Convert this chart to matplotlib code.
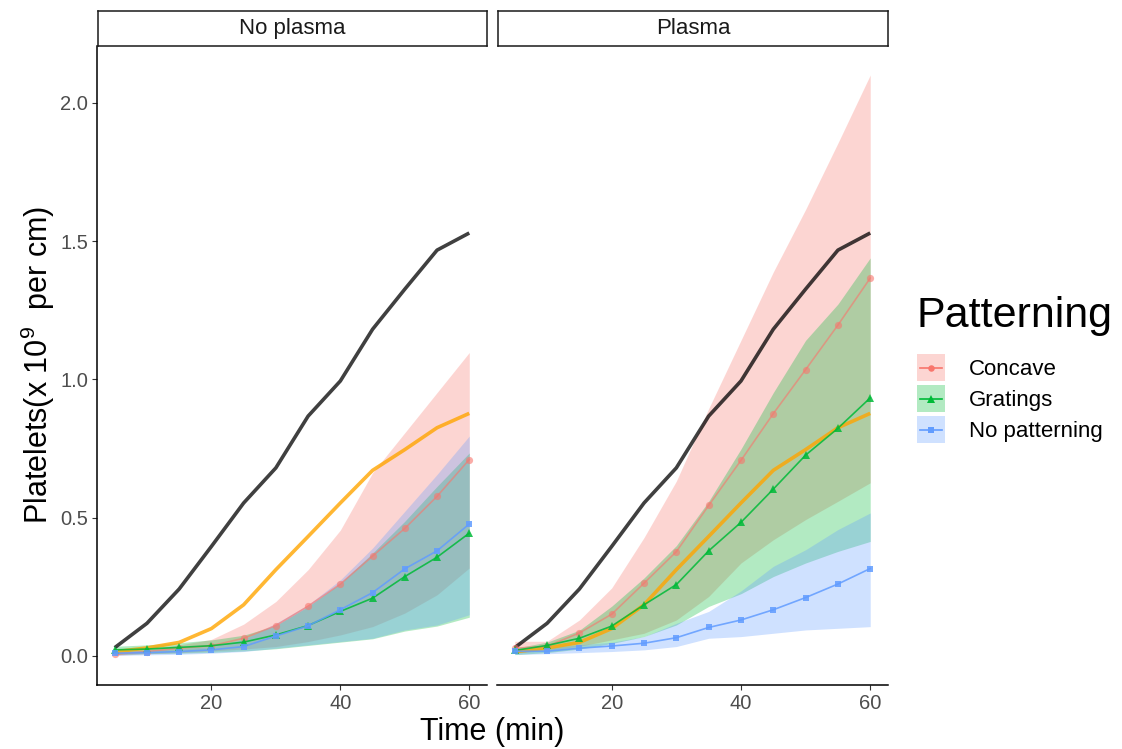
import matplotlib
matplotlib.use("Agg")
import matplotlib.pyplot as plt
from matplotlib.patches import Rectangle
from matplotlib.lines import Line2D
from matplotlib.legend_handler import HandlerBase

plt.rcParams['font.family'] = ['Liberation Sans', 'DejaVu Sans']
plt.rcParams['mathtext.fontset'] = 'custom'
plt.rcParams['mathtext.rm'] = 'Liberation Sans'
plt.rcParams['mathtext.it'] = 'Liberation Sans:italic'

# ---------------- data ----------------
time_min = [5, 10, 15, 20, 25, 30, 35, 40, 45, 50, 55, 60]

# reference curves shown in both panels
ref_dark = [0.030, 0.118, 0.242, 0.396, 0.553, 0.680, 0.867, 0.994, 1.181, 1.326, 1.467, 1.529]
ref_orange = [0.015, 0.029, 0.049, 0.099, 0.185, 0.312, 0.432, 0.553, 0.671, 0.746, 0.825, 0.877]

panels = ["No plasma", "Plasma"]
groups = ["Concave", "Gratings", "No patterning"]

# No plasma
np_concave_mean = [0.006, 0.016, 0.028, 0.037, 0.064, 0.110, 0.180, 0.260, 0.361, 0.461, 0.577, 0.710]
np_concave_lo = [0.002, 0.008, 0.012, 0.018, 0.025, 0.034, 0.052, 0.076, 0.106, 0.155, 0.221, 0.318]
np_concave_hi = [0.015, 0.025, 0.040, 0.060, 0.115, 0.197, 0.312, 0.455, 0.662, 0.807, 0.952, 1.097]
np_gratings_mean = [0.022, 0.025, 0.031, 0.037, 0.050, 0.076, 0.110, 0.161, 0.209, 0.287, 0.357, 0.444]
np_gratings_lo = [0.005, 0.008, 0.010, 0.013, 0.018, 0.026, 0.038, 0.050, 0.062, 0.090, 0.108, 0.140]
np_gratings_hi = [0.035, 0.040, 0.048, 0.058, 0.075, 0.110, 0.179, 0.263, 0.372, 0.487, 0.613, 0.734]
np_none_mean = [0.010, 0.012, 0.016, 0.022, 0.034, 0.072, 0.109, 0.167, 0.229, 0.315, 0.380, 0.477]
np_none_lo = [0.002, 0.004, 0.006, 0.010, 0.016, 0.028, 0.040, 0.052, 0.064, 0.094, 0.112, 0.149]
np_none_hi = [0.018, 0.020, 0.026, 0.034, 0.060, 0.118, 0.185, 0.275, 0.390, 0.523, 0.656, 0.795]

# Plasma
p_concave_mean = [0.028, 0.035, 0.083, 0.151, 0.263, 0.377, 0.544, 0.707, 0.876, 1.035, 1.196, 1.366]
p_concave_lo = [0.010, 0.020, 0.035, 0.058, 0.082, 0.130, 0.215, 0.336, 0.420, 0.493, 0.559, 0.626]
p_concave_hi = [0.053, 0.053, 0.130, 0.246, 0.428, 0.632, 0.894, 1.141, 1.388, 1.614, 1.854, 2.100]
p_gratings_mean = [0.020, 0.038, 0.064, 0.108, 0.185, 0.258, 0.380, 0.483, 0.603, 0.726, 0.823, 0.933]
p_gratings_lo = [0.005, 0.012, 0.025, 0.045, 0.070, 0.112, 0.179, 0.225, 0.287, 0.336, 0.378, 0.414]
p_gratings_hi = [0.028, 0.050, 0.093, 0.180, 0.282, 0.399, 0.559, 0.748, 0.952, 1.141, 1.272, 1.439]
p_none_mean = [0.017, 0.017, 0.028, 0.036, 0.046, 0.066, 0.103, 0.130, 0.167, 0.211, 0.260, 0.316]
p_none_lo = [0.005, 0.008, 0.012, 0.016, 0.022, 0.034, 0.064, 0.070, 0.082, 0.094, 0.100, 0.106]
p_none_hi = [0.025, 0.030, 0.040, 0.050, 0.070, 0.118, 0.161, 0.235, 0.324, 0.384, 0.457, 0.517]

series = {
    "No plasma": {
        "Concave": (np_concave_mean, np_concave_lo, np_concave_hi),
        "Gratings": (np_gratings_mean, np_gratings_lo, np_gratings_hi),
        "No patterning": (np_none_mean, np_none_lo, np_none_hi),
    },
    "Plasma": {
        "Concave": (p_concave_mean, p_concave_lo, p_concave_hi),
        "Gratings": (p_gratings_mean, p_gratings_lo, p_gratings_hi),
        "No patterning": (p_none_mean, p_none_lo, p_none_hi),
    },
}

colors = {"Concave": "#F8766D", "Gratings": "#00BA38", "No patterning": "#619CFF"}
markers = {"Concave": "o", "Gratings": "^", "No patterning": "s"}
msizes = {"Concave": 5.2, "Gratings": 6.2, "No patterning": 5.0}
line_alpha = {"Concave": 0.6, "Gratings": 0.85, "No patterning": 0.85}
RIBBON_ALPHA = 0.3


class RibbonLineHandler(HandlerBase):
    """Legend key: translucent ribbon square with the series line and marker."""

    def create_artists(self, legend, orig_handle, xdescent, ydescent, width, height,
                       fontsize, trans):
        c = orig_handle.get_color()
        rect = Rectangle((-xdescent, -ydescent), width, height, facecolor=c,
                         alpha=RIBBON_ALPHA, linewidth=0, transform=trans)
        yc = -ydescent + height / 2
        line = Line2D([-xdescent + width * 0.1, -xdescent + width * 0.9], [yc, yc],
                      color=c, linewidth=1.2, transform=trans)
        mk = Line2D([-xdescent + width / 2], [yc], color=c, marker=orig_handle.get_marker(),
                    markersize=orig_handle.get_markersize() * 0.9, markeredgewidth=0,
                    linestyle="none", transform=trans)
        return [rect, line, mk]


# ---------------- figure ----------------
W, H = 1122, 749
fig = plt.figure(figsize=(W / 100, H / 100), dpi=100)


def fx(px):
    return px / W


def fy(py):
    return 1 - py / H


panel_x = [(97, 487), (497, 888)]
top, bottom = 46, 685
for i, name in enumerate(panels):
    x0, x1 = panel_x[i]
    ax = fig.add_axes([fx(x0), fy(bottom), fx(x1 - x0), (bottom - top) / H])

    for g in groups:
        mean, lo, hi = series[name][g]
        ax.fill_between(time_min, lo, hi, color=colors[g], alpha=RIBBON_ALPHA,
                        linewidth=0, zorder=1)

    ax.plot(time_min, ref_dark, color="black", alpha=0.75, linewidth=2.6, zorder=3,
            solid_capstyle="butt")
    ax.plot(time_min, ref_orange, color="orange", alpha=0.8, linewidth=2.6, zorder=3,
            solid_capstyle="butt")

    for g in groups:
        mean, lo, hi = series[name][g]
        ax.plot(time_min, mean, color=colors[g], alpha=line_alpha[g], linewidth=1.2,
                marker=markers[g], markersize=msizes[g], markeredgewidth=0, zorder=4)

    ax.set_xlim(2.25, 62.75)
    ax.set_ylim(-0.105, 2.205)
    ax.set_xticks([20, 40, 60])
    ax.set_yticks([0.0, 0.5, 1.0, 1.5, 2.0])
    ax.set_yticklabels(["0.0", "0.5", "1.0", "1.5", "2.0"])
    for s in ["top", "right"]:
        ax.spines[s].set_visible(False)
    for s in ["left", "bottom"]:
        ax.spines[s].set_linewidth(1.1)
        ax.spines[s].set_color("black")
    ax.tick_params(axis="both", direction="out", length=3.5, width=0.8, color="#333333",
                   labelsize=14.5, labelcolor="#4D4D4D", pad=3)
    if i == 1:
        ax.spines["left"].set_visible(False)
        ax.tick_params(axis="y", left=False, labelleft=False)

    # facet strip
    sx = fig.add_axes([fx(x0 + 1), fy(top), fx(x1 - x0 - 1), 35 / H])
    sx.set_xticks([])
    sx.set_yticks([])
    for s in sx.spines.values():
        s.set_linewidth(1.1)
        s.set_color("#1A1A1A")
    sx.text(0.5, 0.5, name, ha="center", va="center", fontsize=16, color="#1A1A1A",
            transform=sx.transAxes)

# axis titles
fig.text(fx(492), fy(732), "Time (min)", ha="center", va="center", fontsize=22, color="black")
fig.text(fx(38), fy(365), r"Platelets(x $\mathregular{10^{9}}$  per cm)", ha="center",
         va="center", rotation=90, fontsize=22, color="black")

# legend
fig.text(fx(917), fy(327), "Patterning", ha="left", va="baseline", fontsize=31, color="black")
handles = [Line2D([], [], color=colors[g], marker=markers[g], markersize=msizes[g])
           for g in groups]
leg = fig.legend(handles, groups, handler_map={Line2D: RibbonLineHandler()},
                 loc="upper left", bbox_to_anchor=(fx(917), fy(354)),
                 frameon=False, fontsize=16, handlelength=1.27, handleheight=1.5,
                 handletextpad=1.05, labelspacing=0.18, borderpad=0.0, borderaxespad=0.0)

fig.savefig("out.png", dpi=100)
